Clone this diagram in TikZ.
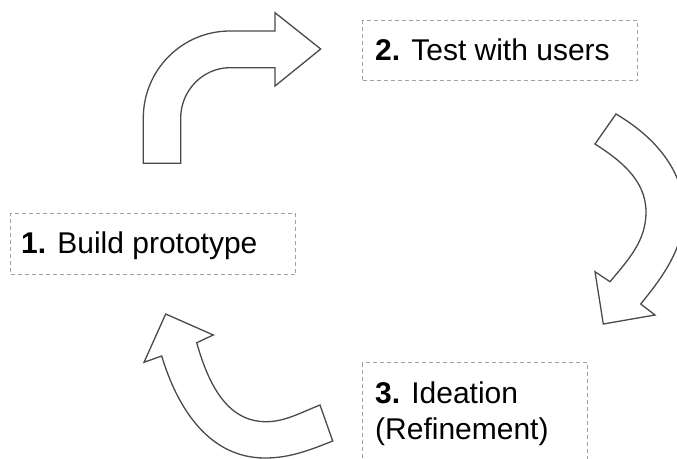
\documentclass[tikz,border=0pt]{standalone}
\usepackage{fontspec}
\setmainfont{Liberation Sans}
\definecolor{arrowline}{HTML}{4A4A4A}
\definecolor{boxline}{HTML}{A0A0A0}
\tikzset{
  bentarrow/.style={draw=arrowline, fill=white, line width=1.3pt, line join=miter},
  stepbox/.style={draw=boxline, dash pattern=on 4pt off 3pt, line width=1pt, rectangle, inner sep=0pt, anchor=north west},
  steplabel/.style={inner sep=0pt, anchor=base west, font=\fontsize{30}{36.5}\selectfont, align=left}
}
\begin{document}
\begin{tikzpicture}[x=1pt, y=-1pt]
\useasboundingbox (0,0) rectangle (677,458);
\clip (0,0) rectangle (677,458);
\fill[white] (0,0) rectangle (677,458);

% boxes
\node[stepbox, minimum width=285pt, minimum height=61.3pt] (b1) at (10,212.7) {};
\node[stepbox, minimum width=275pt, minimum height=60pt] (b2) at (362,20) {};
\node[stepbox, minimum width=225pt, minimum height=110pt] (b3) at (362,362) {};

% labels
\node[steplabel] (t1) at (21,253) {\textbf{1.} Build prototype};
\node[steplabel] (t2) at (375,60) {\textbf{2.} Test with users};
\node[steplabel] (t3) at (375,439.5) {\textbf{3.} Ideation\\(Refinement)};

% arrow 1 (up then right)
\draw[bentarrow] (143.3,163.3) -- (143.3,118)
  .. controls (143.3,70) and (182,31) .. (230,31)
  -- (275,31) -- (275,12.7) -- (320.7,49) -- (275,86) -- (275,67.7) -- (230,67.7)
  .. controls (202.7,67.7) and (180.7,90.7) .. (180.7,118)
  -- (180.7,163.3) -- cycle;

% arrow 2 (curving down on the right)
\draw[bentarrow] (616,114)
  .. controls (660,140) and (684,175) .. (684,212)
  .. controls (684,250) and (660,280) .. (640.7,304)
  -- (655,315) -- (603.3,324) -- (595,271.7) -- (610,281.7)
  .. controls (630,258) and (646,240) .. (646,212)
  .. controls (646,180) and (620,160) .. (595,144)
  -- cycle;

% arrow 3 (curving up on the left)
\draw[bentarrow] (165.7,314) -- (213.3,335) -- (196.7,342.7)
  .. controls (210,390) and (230,422) .. (266.7,421.7)
  .. controls (285,421.5) and (300,413) .. (320,405)
  -- (332.7,441)
  .. controls (310,450) and (290,458) .. (265,458)
  .. controls (210,458) and (178,410) .. (161.7,356)
  -- (144,362.3) -- cycle;
\end{tikzpicture}
\end{document}
